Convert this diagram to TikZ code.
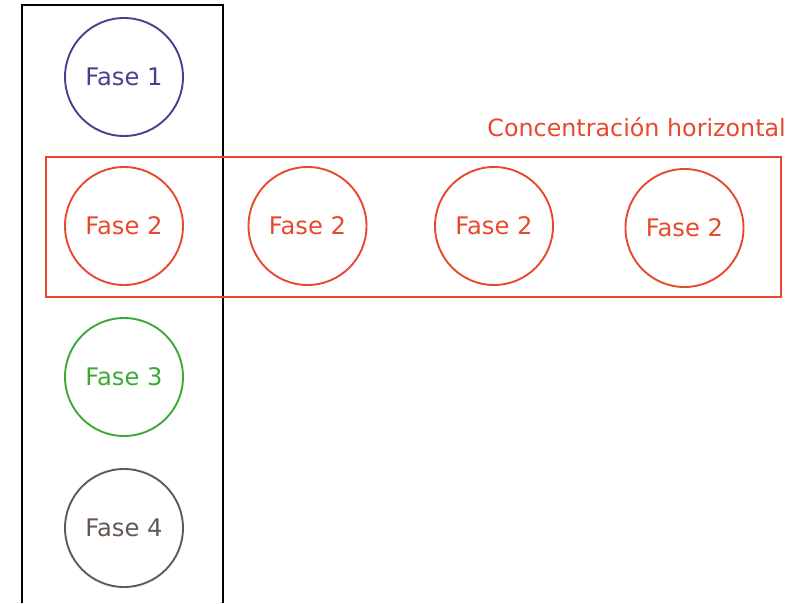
\documentclass[tikz,border=0pt]{standalone}
\usepackage{fontspec}
\setmainfont{DejaVu Sans}
\definecolor{cpurple}{HTML}{4A3F8E}
\definecolor{cred}{HTML}{E8482C}
\definecolor{cgreen}{HTML}{3AA935}
\definecolor{cbrown}{HTML}{645850}
\tikzset{
  fase/.style={circle, draw, line width=1.9pt, minimum size=118pt, inner sep=0pt, font=\fontsize{24.2}{28}\selectfont},
  column/.style={draw=black, line width=1.2pt},
  group/.style={draw=cred, line width=1.8pt},
}
\begin{document}
\begin{tikzpicture}[x=1pt,y=-1pt]
\useasboundingbox (0,0) rectangle (800,603);
\draw[column] (22,603) -- (22,5) -- (223,5) -- (223,603);
\node[group, minimum width=735pt, minimum height=140pt, inner sep=0pt] (box) at (413.5,227) {};
\node[anchor=base east, text=cred, font=\fontsize{23.8}{28}\selectfont, inner sep=0pt] (title) at (786,136) {Concentración horizontal};
\node[fase, draw=cpurple, text=cpurple] (f1) at (124,77) {Fase 1};
\node[fase, draw=cred, text=cred] (f2a) at (124,226) {Fase 2};
\node[fase, draw=cred, text=cred] (f2b) at (307.5,226) {Fase 2};
\node[fase, draw=cred, text=cred] (f2c) at (494,226) {Fase 2};
\node[fase, draw=cred, text=cred] (f2d) at (684.5,228) {Fase 2};
\node[fase, draw=cgreen, text=cgreen] (f3) at (124,377) {Fase 3};
\node[fase, draw=cbrown, text=cbrown] (f4) at (124,528) {Fase 4};
\end{tikzpicture}
\end{document}
